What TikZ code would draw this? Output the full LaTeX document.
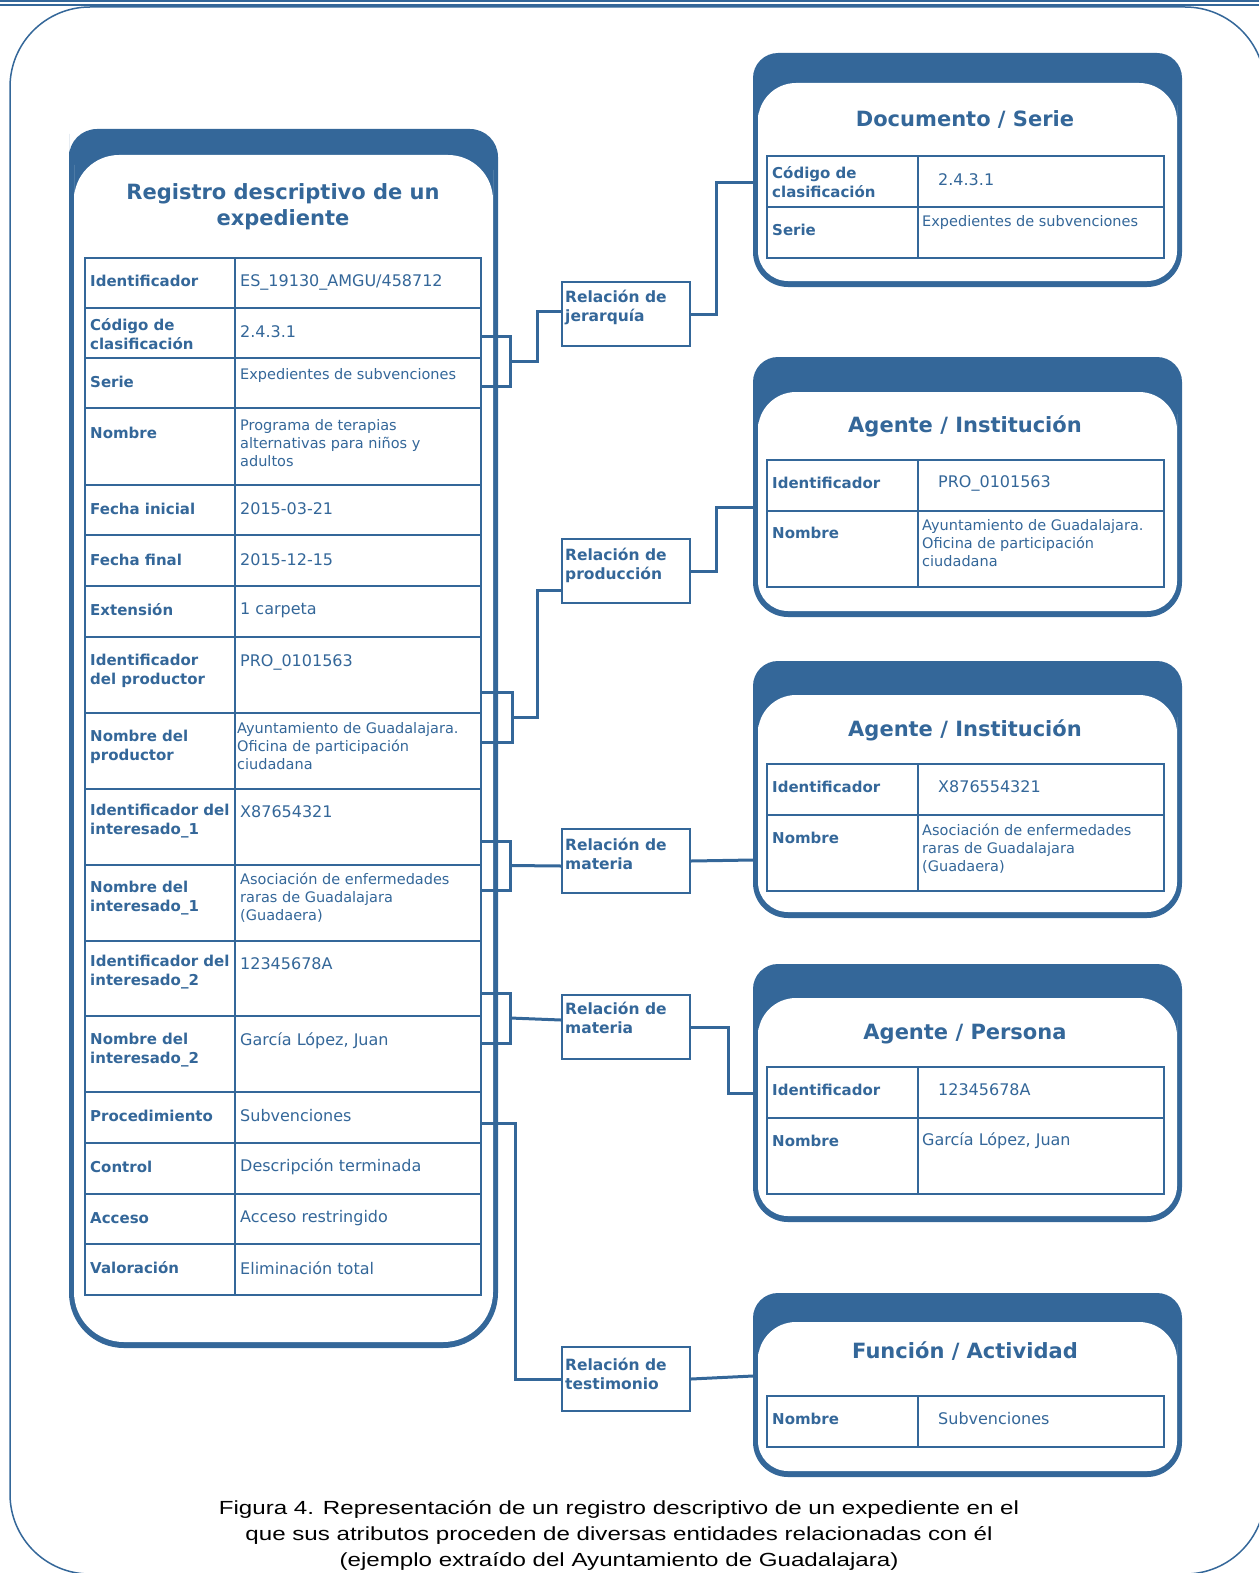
\documentclass[tikz,border=0pt]{standalone}
\usepackage{fontspec}
\setmainfont{DejaVu Sans}
\newfontfamily\piefont[FakeStretch=1.27]{Liberation Sans}
\usetikzlibrary{calc}
\definecolor{azul}{RGB}{52,103,153}

% ficha: x izq, y sup, x der, y inf, banda, radio sup, radio interior, radio inf
\newcommand{\ficha}[8]{%
  \fill[azul] (#1,#2+60) [rounded corners=#6] -- (#1,#2) -- (#3,#2) -- (#3,#2+60)
    [rounded corners=#8] -- (#3,#4) -- (#1,#4) -- cycle;
  \fill[white] (#1+5,#2+#5+60) [rounded corners=#7] -- (#1+5,#2+#5) -- (#3-5,#2+#5) -- (#3-5,#2+#5+60)
    [rounded corners=#8-5pt] -- (#3-5,#4-6) -- (#1+5,#4-6) -- cycle;
}

\begin{document}
\begin{tikzpicture}[x=1pt, y=-1pt,
  conector/.style={draw=azul, line width=3pt},
  tabla/.style={draw=azul, line width=2.2pt},
  relacion/.style={draw=azul, fill=white, line width=2pt, minimum width=128pt, minimum height=64pt, inner sep=0pt, anchor=north west},
  etiq/.style={anchor=west, inner sep=0pt, yshift=-2pt, align=left, text=azul, font=\fontsize{15}{19.5}\selectfont\bfseries},
  reletiq/.style={etiq, yshift=-1pt, font=\fontsize{15.5}{19}\selectfont\bfseries},
  valor/.style={anchor=west, inner sep=0pt, yshift=-2pt, align=left, text=azul, font=\fontsize{16}{19}\selectfont},
  largo/.style={valor, font=\fontsize{14.5}{18}\selectfont},
  titulo/.style={inner sep=0pt, yshift=-3pt, align=center, text=azul, font=\fontsize{21}{26}\selectfont\bfseries},
  pie/.style={inner sep=0pt, align=center, font=\piefont\fontsize{19}{26}\selectfont}]
\useasboundingbox (0,0) rectangle (1259,1573);

% marco
\begin{scope}
\clip (0,0) rectangle (1259,1573);
\draw[azul, line width=1.6pt] (0,1.2) -- (1259,1.2) (0,5) -- (1259,5);
\draw[azul, line width=1.5pt, rounded corners=80pt] (10,7) rectangle (1265,1574);
\end{scope}

% registro
\ficha{69}{129}{498}{1348}{26}{28pt}{45pt}{55pt}
\node[titulo] (registro) at (283,204) {Registro descriptivo de un\\expediente};
\draw[tabla] (85,258) rectangle (481,1295);
\draw[tabla] (235,258) -- (235,1295);
\draw[tabla] (85,308) -- (481,308) (85,358) -- (481,358) (85,408) -- (481,408);
\draw[tabla] (85,485) -- (481,485) (85,535) -- (481,535) (85,586) -- (481,586);
\draw[tabla] (85,637) -- (481,637) (85,713) -- (481,713) (85,789) -- (481,789);
\draw[tabla] (85,865) -- (481,865) (85,941) -- (481,941) (85,1016) -- (481,1016);
\draw[tabla] (85,1092) -- (481,1092) (85,1143) -- (481,1143) (85,1194) -- (481,1194);
\draw[tabla] (85,1244) -- (481,1244);

\node[etiq] (ident) at (90,279) {Identificador};
\node[valor] (identv) at (240,280) {ES\_19130\_AMGU/458712};
\node[etiq] (codigo) at (90,332) {Código de\\clasificación};
\node[valor] (codigov) at (240,330) {2.4.3.1};
\node[etiq] (serie) at (90,380) {Serie};
\node[largo] (seriev) at (240,373) {Expedientes de subvenciones};
\node[etiq] (nombre) at (90,431) {Nombre};
\node[largo] (nombrev) at (240,441) {Programa de terapias\\alternativas para niños y\\adultos};
\node[etiq] (finicial) at (90,507) {Fecha inicial};
\node[valor] (finicialv) at (240,507) {2015-03-21};
\node[etiq] (ffinal) at (90,558) {Fecha final};
\node[valor] (ffinalv) at (240,558) {2015-12-15};
\node[etiq] (extension) at (90,608) {Extensión};
\node[valor] (extensionv) at (240,608) {1 carpeta};
\node[etiq] (idprod) at (90,669) {Identificador\\del productor};
\node[valor] (idprodv) at (240,660) {PRO\_0101563};
\node[etiq] (nomprod) at (90,745) {Nombre del\\productor};
\node[largo] (nomprodv) at (237,744) {Ayuntamiento de Guadalajara.\\Oficina de participación\\ciudadana};
\node[etiq] (idint1) at (90,819) {Identificador del\\interesado\_1};
\node[valor] (idint1v) at (240,810) {X87654321};
\node[etiq] (nomint1) at (90,896) {Nombre del\\interesado\_1};
\node[largo] (nomint1v) at (240,896) {Asociación de enfermedades\\raras de Guadalajara\\(Guadaera)};
\node[etiq] (idint2) at (90,970) {Identificador del\\interesado\_2};
\node[valor] (idint2v) at (240,962) {12345678A};
\node[etiq] (nomint2) at (90,1048) {Nombre del\\interesado\_2};
\node[valor] (nomint2v) at (240,1039) {García López, Juan};
\node[etiq] (proced) at (90,1114) {Procedimiento};
\node[valor] (procedv) at (240,1114) {Subvenciones};
\node[etiq] (control) at (90,1165) {Control};
\node[valor] (controlv) at (240,1165) {Descripción terminada};
\node[etiq] (acceso) at (90,1216) {Acceso};
\node[valor] (accesov) at (240,1216) {Acceso restringido};
\node[etiq] (valorac) at (90,1266) {Valoración};
\node[valor] (valoracv) at (240,1266) {Eliminación total};

% Documento / Serie
\ficha{753}{53}{1182}{287}{30}{25pt}{38pt}{35pt}
\node[titulo] (docserie) at (965,116) {Documento / Serie};
\draw[tabla] (767,156) rectangle (1164,258) (918,156) -- (918,258) (767,207) -- (1164,207);
\node[etiq] (dcod) at (772,180) {Código de\\clasificación};
\node[valor] (dcodv) at (938,178) {2.4.3.1};
\node[etiq] (dser) at (772,228) {Serie};
\node[largo] (dserv) at (922,220) {Expedientes de subvenciones};

% Agente / Institucion 1
\ficha{753}{357}{1182}{617}{35}{25pt}{38pt}{35pt}
\node[titulo] (agente1) at (965,423) {Agente / Institución};
\draw[tabla] (767,460) rectangle (1164,587) (918,460) -- (918,587) (767,511) -- (1164,511);
\node[etiq] (a1id) at (772,481) {Identificador};
\node[valor] (a1idv) at (938,481) {PRO\_0101563};
\node[etiq] (a1nom) at (772,531) {Nombre};
\node[largo] (a1nomv) at (922,541) {Ayuntamiento de Guadalajara.\\Oficina de participación\\ciudadana};

% Agente / Institucion 2
\ficha{753}{661}{1182}{918}{34}{25pt}{38pt}{35pt}
\node[titulo] (agente2) at (965,727) {Agente / Institución};
\draw[tabla] (767,764) rectangle (1164,891) (918,764) -- (918,891) (767,815) -- (1164,815);
\node[etiq] (a2id) at (772,785) {Identificador};
\node[valor] (a2idv) at (938,785) {X876554321};
\node[etiq] (a2nom) at (772,836) {Nombre};
\node[largo] (a2nomv) at (922,847) {Asociación de enfermedades\\raras de Guadalajara\\(Guadaera)};

% Agente / Persona
\ficha{753}{964}{1182}{1222}{34}{25pt}{38pt}{35pt}
\node[titulo] (persona) at (965,1031) {Agente / Persona};
\draw[tabla] (767,1067) rectangle (1164,1194) (918,1067) -- (918,1194) (767,1118) -- (1164,1118);
\node[etiq] (pid) at (772,1088) {Identificador};
\node[valor] (pidv) at (938,1088) {12345678A};
\node[etiq] (pnom) at (772,1139) {Nombre};
\node[valor] (pnomv) at (922,1139) {García López, Juan};

% Funcion / Actividad
\ficha{753}{1293}{1182}{1477}{29}{25pt}{38pt}{35pt}
\node[titulo] (funcion) at (965,1348) {Función / Actividad};
\draw[tabla] (767,1396) rectangle (1164,1447) (918,1396) -- (918,1447);
\node[etiq] (fnom) at (772,1417) {Nombre};
\node[valor] (fnomv) at (938,1417) {Subvenciones};

% relaciones
\node[relacion] (rel1) at (561,281) {};
\node[reletiq] (rel1t) at (565,304) {Relación de\\jerarquía};
\node[relacion] (rel2) at (561,538) {};
\node[reletiq] (rel2t) at (565,562) {Relación de\\producción};
\node[relacion] (rel3) at (561,828) {};
\node[reletiq] (rel3t) at (565,851) {Relación de\\materia};
\node[relacion] (rel4) at (561,994) {};
\node[reletiq] (rel4t) at (565,1015) {Relación de\\materia};
\node[relacion] (rel5) at (561,1346) {};
\node[reletiq] (rel5t) at (565,1371) {Relación de\\testimonio};

% puntos de enlace
\coordinate (b1a) at (481,336); \coordinate (b1b) at (481,386);
\coordinate (b2a) at (481,692); \coordinate (b2b) at (481,742);
\coordinate (b3a) at (481,841); \coordinate (b3b) at (481,890);
\coordinate (b4a) at (481,993); \coordinate (b4b) at (481,1043);
\coordinate (b5) at (481,1123);
\coordinate (doc) at (753,183);
\coordinate (ag1) at (753,507);
\coordinate (ag2) at (753,860);
\coordinate (per) at (753,1093);
\coordinate (fun) at (753,1376);

% conectores
\draw[conector] (b1a) -- ++(29,0) |- (b1b);
\draw[conector] ($(b1a)!.5!(b1b)+(29,0)$) -- ++(27,0) |- ($(rel1.west)+(0,-3)$);
\draw[conector] (rel1.east) -- ++(25,0) |- (doc);
\draw[conector] (b2a) -- ++(31,0) |- (b2b);
\draw[conector] ($(b2a)!.5!(b2b)+(31,0)$) -- ++(25,0) |- ($(rel2.west)+(0,19)$);
\draw[conector] (rel2.east) -- ++(25,0) |- (ag1);
\draw[conector] (b3a) -- ++(29,0) |- (b3b);
\draw[conector] ($(b3a)!.5!(b3b)+(29,0)$) -- ($(rel3.west)+(0,5)$);
\draw[conector] (rel3.east) -- (ag2);
\draw[conector] (b4a) -- ++(29,0) |- (b4b);
\draw[conector] ($(b4a)!.5!(b4b)+(29,0)$) -- ($(rel4.west)+(0,-7)$);
\draw[conector] (rel4.east) -- ++(37,0) |- (per);
\draw[conector] (b5) -- ++(34,0) |- (rel5.west);
\draw[conector] (rel5.east) -- (fun);

% pie
\node[pie] (leyenda) at (619,1535) {Figura 4. Representación de un registro descriptivo de un expediente en el\\que sus atributos proceden de diversas entidades relacionadas con él\\(ejemplo extraído del Ayuntamiento de Guadalajara)};
\end{tikzpicture}
\end{document}
